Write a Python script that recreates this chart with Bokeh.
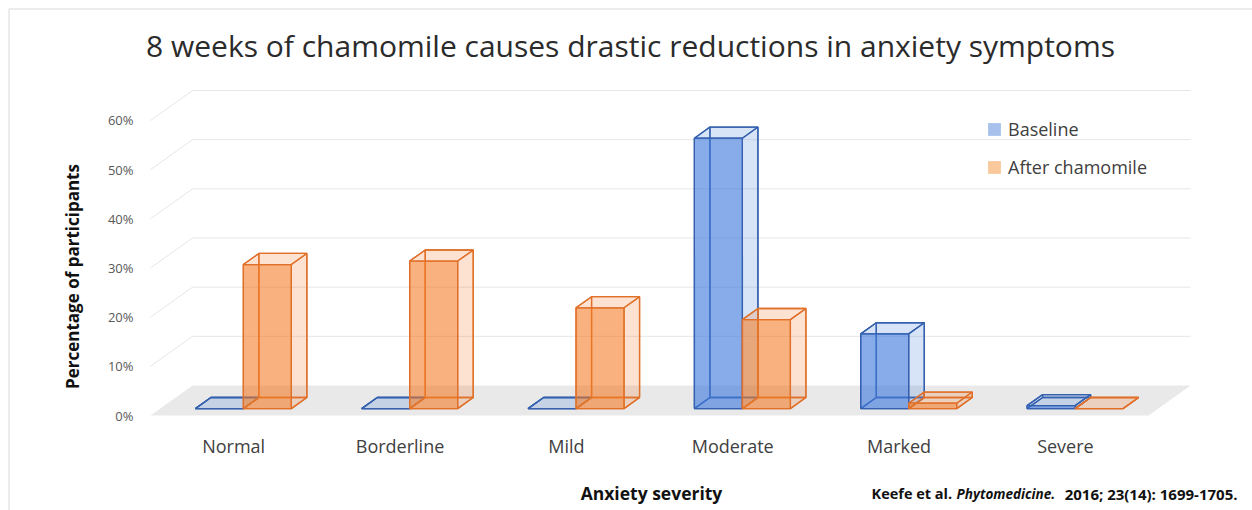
import math
from bokeh.plotting import figure
from bokeh.models import (Range1d, FixedTicker, Label, Legend, LegendItem,
                          ColumnDataSource)
from bokeh.embed import file_html
from bokeh.resources import INLINE

# ---------------- data ----------------
categories = ["Normal", "Borderline", "Mild", "Moderate", "Marked", "Severe"]
baseline = [0.0, 0.0, 0.0, 55.0, 15.2, 0.6]
after_chamomile = [29.3, 30.0, 20.5, 18.1, 1.1, 0.0]
series_names = ["Baseline", "After chamomile"]
y_ticks = [0, 10, 20, 30, 40, 50, 60]
y_tick_labels = ["0%", "10%", "20%", "30%", "40%", "50%", "60%"]

title_text = "8 weeks of chamomile causes drastic reductions in anxiety symptoms"
x_title = "Anxiety severity"
y_title = "Percentage of participants"
cite_1 = "Keefe et al."
cite_2 = "Phytomedicine."
cite_3 = "2016; 23(14): 1699-1705."

# ---------------- layout / style ----------------
W, H = 1252, 510
PXU = 1048 / 6.3          # pixels per category unit
PYU = 340 / 69.15         # pixels per percent
ORIGIN_PX, ORIGIN_PY = 150, 415   # canvas pixel of (x=-0.5, y=0)
X0 = -0.5 - ORIGIN_PX / PXU
X1 = X0 + W / PXU
Y1 = ORIGIN_PY / PYU
Y0 = Y1 - H / PYU


def px_x(px):
    return X0 + px / PXU


def px_y(py):
    return Y1 - py / PYU


DX = 42 / PXU      # depth shift in x (full depth)
DY = 30 / PYU      # depth shift in y (full depth)
Z0, Z1 = 0.23, 0.60
BW = 48 / PXU      # bar width
FLOOR_L, FLOOR_R = -0.5, 5.5

FONT = "Open Sans"
fills = ["#3F7BDC", "#F47A22"]
front_alpha = [0.58, 0.53]
lines = ["#3560AE", "#E0702A"]
legend_fills = ["#A7C1EC", "#F9C99C"]

p = figure(width=W, height=H, x_range=Range1d(X0, X1), y_range=Range1d(Y0, Y1),
           output_backend="svg", toolbar_location=None,
           min_border_left=0, min_border_right=0,
           min_border_top=0, min_border_bottom=0)
p.outline_line_color = None
p.xgrid.visible = False
p.ygrid.visible = False
p.background_fill_color = "white"
p.border_fill_color = "white"

# thin page border
p.line([px_x(8.5), px_x(8.5), px_x(W)], [px_y(H), px_y(8.5), px_y(8.5)],
       line_color="#d9d9d9", line_width=1)


def pt(x, h, z):
    return x + z * DX, h + z * DY


# floor
fx, fy = zip(pt(FLOOR_L, 0, 0), pt(FLOOR_R, 0, 0), pt(FLOOR_R, 0, 1), pt(FLOOR_L, 0, 1))
p.patch(list(fx), list(fy), fill_color="#e9e9e9", line_color=None)

# back wall gridlines + side wall diagonals
gx, gy = [], []
for t in y_ticks[1:]:
    a = pt(FLOOR_L, t, 0)
    b = pt(FLOOR_L, t, 1)
    c = pt(FLOOR_R, t, 1)
    gx.append([a[0], b[0], c[0]])
    gy.append([a[1], b[1], c[1]])
p.multi_line(gx, gy, line_color="#e6e6e6", line_width=1)


def faces(vals, offset):
    out = {k: ([], []) for k in ["back", "left", "bottom", "right", "top", "front"]}
    for i, v in enumerate(vals):
        xl = i + offset
        xr = xl + BW
        corners = {
            "back": [(xl, 0, Z1), (xr, 0, Z1), (xr, v, Z1), (xl, v, Z1)],
            "left": [(xl, 0, Z0), (xl, 0, Z1), (xl, v, Z1), (xl, v, Z0)],
            "bottom": [(xl, 0, Z0), (xr, 0, Z0), (xr, 0, Z1), (xl, 0, Z1)],
            "right": [(xr, 0, Z0), (xr, 0, Z1), (xr, v, Z1), (xr, v, Z0)],
            "top": [(xl, v, Z0), (xr, v, Z0), (xr, v, Z1), (xl, v, Z1)],
            "front": [(xl, 0, Z0), (xr, 0, Z0), (xr, v, Z0), (xl, v, Z0)],
        }
        for k, cs in corners.items():
            pts = [pt(*c) for c in cs]
            out[k][0].append([q[0] for q in pts])
            out[k][1].append([q[1] for q in pts])
    return out


for s, (vals, off) in enumerate([(baseline, -BW), (after_chamomile, 0.0)]):
    f = faces(vals, off)
    for k in ["back", "left", "bottom", "right", "top"]:
        p.patches(f[k][0], f[k][1], fill_color=fills[s], fill_alpha=0.11,
                  line_color=lines[s], line_width=1.3)
    p.patches(f["front"][0], f["front"][1], fill_color=fills[s], fill_alpha=front_alpha[s],
              line_color=lines[s], line_width=1.3)

# axes (drawn inside the full-canvas frame)
p.xaxis.fixed_location = 0
p.xaxis.ticker = FixedTicker(ticks=list(range(len(categories))))
p.xaxis.major_label_overrides = {i: c for i, c in enumerate(categories)}
p.xaxis.axis_line_color = None
p.xaxis.major_tick_line_color = None
p.xaxis.minor_tick_line_color = None
p.xaxis.major_label_standoff = 12
p.xaxis.major_label_text_font = FONT
p.xaxis.major_label_text_font_size = "18px"
p.xaxis.major_label_text_color = "#404040"

p.yaxis.fixed_location = FLOOR_L
p.yaxis.ticker = FixedTicker(ticks=y_ticks)
p.yaxis.major_label_overrides = {t: l for t, l in zip(y_ticks, y_tick_labels)}
p.yaxis.axis_line_color = None
p.yaxis.major_tick_line_color = None
p.yaxis.minor_tick_line_color = None
p.yaxis.major_label_standoff = 11
p.yaxis.major_label_text_font = FONT
p.yaxis.major_label_text_font_size = "13px"
p.yaxis.major_label_text_color = "#595959"

# legend
nan = float("nan")
src_dummy = ColumnDataSource(data=dict(l=[nan], r=[nan], b=[nan], t=[nan]))
leg_r = [p.quad(left="l", right="r", bottom="b", top="t", source=src_dummy,
                fill_color=c, line_color=None) for c in legend_fills]
legend = Legend(items=[LegendItem(label=n, renderers=[r]) for n, r in zip(series_names, leg_r)],
                location=(986, 331), border_line_color=None, background_fill_alpha=0,
                padding=0, margin=0, spacing=14, glyph_width=16, glyph_height=16,
                label_standoff=6, label_height=20,
                label_text_font=FONT, label_text_font_size="18px",
                label_text_color="#404040")
p.add_layout(legend)

# texts
p.add_layout(Label(x=px_x(630), y=px_y(45), text=title_text, text_align="center",
                   text_baseline="middle", text_font=FONT,
                   text_font_size="30px", text_color="#2b2b2b"))
p.add_layout(Label(x=px_x(651), y=px_y(492), text=x_title, text_align="center",
                   text_baseline="middle", text_font=FONT, text_font_style="bold",
                   text_font_size="17.5px", text_color="#111111"))
p.add_layout(Label(x=px_x(72), y=px_y(276), text=y_title, text_align="center",
                   text_baseline="middle", angle=math.pi / 2, text_font=FONT,
                   text_font_style="bold", text_font_size="17px", text_color="#111111"))
p.add_layout(Label(x=px_x(871), y=px_y(493), text=cite_1, text_align="left",
                   text_baseline="middle", text_font=FONT, text_font_style="bold",
                   text_font_size="14.5px", text_color="#111111"))
p.add_layout(Label(x=px_x(956), y=px_y(493), text=cite_2, text_align="left",
                   text_baseline="middle", text_font=FONT,
                   text_font_style="bold italic", text_font_size="13.5px",
                   text_color="#111111"))
p.add_layout(Label(x=px_x(1237), y=px_y(493), text=cite_3, text_align="right",
                   text_baseline="middle", text_font=FONT, text_font_style="bold",
                   text_font_size="15px", text_color="#111111"))

open("out.html", "w").write(file_html(p, INLINE))
